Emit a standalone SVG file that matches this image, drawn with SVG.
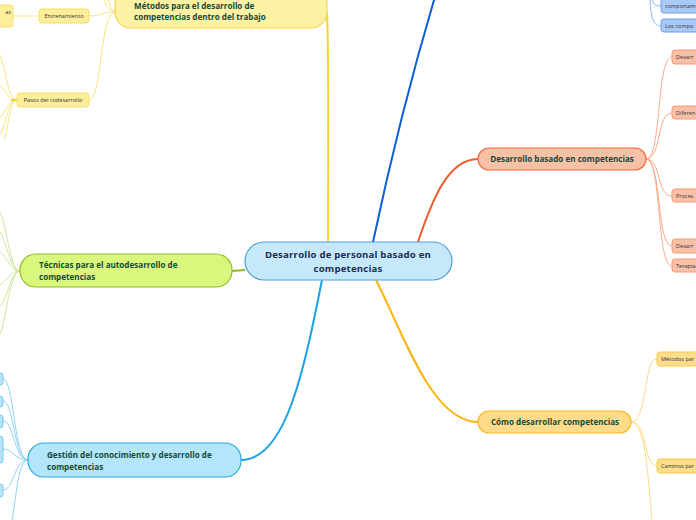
<svg xmlns="http://www.w3.org/2000/svg" width="696" height="520" viewBox="0 0 696 520">
<style>
text{font-family:"Open Sans","Noto Sans","Liberation Sans",sans-serif}
.main{font-size:8.1px;font-weight:bold;fill:#154b3a}
.ctr{font-size:9.6px;font-weight:bold;fill:#1b2b52;text-anchor:middle;letter-spacing:0.2px}
.sm{font-size:5.6px;fill:#333}
.yl{fill:none;stroke:#f7e483;stroke-width:1}
.gl{fill:none;stroke:#cfe69a;stroke-width:1}
.bl{fill:none;stroke:#91d3f4;stroke-width:1}
.dbl{fill:none;stroke:#8fb6ee;stroke-width:1}
.ol{fill:none;stroke:#f9ab8c;stroke-width:1}
.al{fill:none;stroke:#fdd985;stroke-width:1}
.ysub{fill:#fcee9a;stroke:#f6de62;stroke-width:1}
.bsub{fill:#b6e5fb;stroke:#75c8f0;stroke-width:1}
.dbsub{fill:#a9c9f7;stroke:#6d9eea;stroke-width:1}
.osub{fill:#f9c0a8;stroke:#f59a76;stroke-width:1}
.asub{fill:#fddd8c;stroke:#fbc84a;stroke-width:1}
</style>
<g id="connectors">
  <path d="M328 242 C328 160 329 60 327 12" fill="none" stroke="#f2d535" stroke-width="2"/>
  <path d="M373 242 C384 190 404 100 437 -10" fill="none" stroke="#0d5fd6" stroke-width="2"/>
  <path d="M418 242 C432 200 448 159 478 159" fill="none" stroke="#f15a2b" stroke-width="2"/>
  <path d="M245 270 L232 271" fill="none" stroke="#8cbc1f" stroke-width="2"/>
  <path d="M322 280 C304 370 286 460 241 460" fill="none" stroke="#1ba1e6" stroke-width="2"/>
  <path d="M376 280 C404 335 432 422 478 422" fill="none" stroke="#f9b610" stroke-width="2"/>
  <path class="yl" d="M115 12 C102 12 102 16 89 16"/>
  <path class="yl" d="M115 12 C100 12 102 100 89 100"/>
  <path class="yl" d="M115 12 C106 10 106 2 100 -6"/>
  <path class="yl" d="M115 12 C108 8 110 0 106 -8"/>
  <path class="yl" d="M39 16 L13 16"/>
  <path class="yl" d="M17 100 C8 100 6 70 0 55"/>
  <path class="yl" d="M17 100 C8 100 6 90 0 86"/>
  <path class="yl" d="M17 100 C8 100 6 112 0 118"/>
  <path class="yl" d="M17 100 C8 100 6 125 0 135"/>
  <path class="yl" d="M17 100 C10 100 8 130 4 140"/>
  <path d="M17 100 L11 100" fill="none" stroke="#f2d535" stroke-width="2"/>
  <path class="gl" d="M20 271 C10 271 8 230 0 212"/>
  <path class="gl" d="M20 271 C10 271 8 245 0 232"/>
  <path class="gl" d="M20 271 C10 271 8 258 0 252"/>
  <path class="gl" d="M20 271 C10 271 8 280 0 285"/>
  <path class="gl" d="M20 271 C10 271 8 300 0 306"/>
  <path class="gl" d="M20 271 C10 271 6 320 0 335"/>
  <path class="bl" d="M28 460 C14 460 14 379 3 379"/>
  <path class="bl" d="M28 460 C14 460 14 401 3 401"/>
  <path class="bl" d="M28 460 C14 460 14 421 3 421"/>
  <path class="bl" d="M28 460 C14 460 14 449 3 449"/>
  <path class="bl" d="M28 460 C14 460 14 490 3 490"/>
  <path class="bl" d="M28 460 C18 460 16 500 12 520"/>
  <path class="dbl" d="M652 -8 C652 4 654 6 661 6"/>
  <path class="dbl" d="M650 -8 C650 20 654 26 661 26"/>
  <path class="ol" d="M646 159 C662 159 656 57 672 57"/>
  <path class="ol" d="M646 159 C662 159 656 113 672 113"/>
  <path class="ol" d="M646 159 C662 159 656 196 672 196"/>
  <path class="ol" d="M646 159 C662 159 656 246 672 246"/>
  <path class="ol" d="M646 159 C662 159 656 266 672 266"/>
  <path class="al" d="M631 422 C648 422 643 359 657 359"/>
  <path class="al" d="M631 422 C648 422 643 466 657 466"/>
  <path class="al" d="M631 422 C646 422 648 480 652 520"/>
</g>
<g id="center">
  <rect x="245" y="242" width="207" height="38" rx="19" fill="#c5e9fb" stroke="#4d9fda" stroke-width="1.2"/>
  <text class="ctr" x="348" y="257.5">Desarrollo de personal basado en</text>
  <text class="ctr" x="348" y="272">competencias</text>
</g>
<g id="metodos-trabajo">
  <rect x="115" y="-12" width="212" height="40" rx="16" fill="#fdf2a4" stroke="#f4d84a" stroke-width="1.2"/>
  <text class="main" x="134" y="8.5">Métodos para el desarrollo de</text>
  <text class="main" x="134" y="19.5">competencias dentro del trabajo</text>
</g>
<g id="entrenamiento">
  <rect class="ysub" x="39" y="9" width="50" height="14" rx="3"/>
  <text class="sm" x="64" y="18" text-anchor="middle">Entrenamiento</text>
</g>
<g id="top-left-partial">
  <rect class="ysub" x="-20" y="5" width="33" height="22" rx="3"/>
  <text class="sm" x="11" y="13.5" text-anchor="end">as</text>
</g>
<g id="pasos">
  <rect class="ysub" x="17" y="93" width="72" height="14" rx="3"/>
  <text class="sm" x="53" y="102" text-anchor="middle">Pasos del codesarrollo</text>
</g>
<g id="tecnicas">
  <rect x="20" y="254" width="212" height="33" rx="16" fill="#d8f77c" stroke="#8dbf1c" stroke-width="1.2"/>
  <text class="main" x="39" y="268">Técnicas para el autodesarrollo de</text>
  <text class="main" x="39" y="279.5">competencias</text>
</g>
<g id="gestion">
  <rect x="28" y="443" width="213" height="34" rx="16" fill="#b3e5fb" stroke="#2ba8e8" stroke-width="1.2"/>
  <text class="main" x="47" y="458">Gestión del conocimiento y desarrollo de</text>
  <text class="main" x="47" y="469.5">competencias</text>
</g>
<g id="gestion-children">
  <rect class="bsub" x="-10" y="373" width="13" height="12" rx="3"/>
  <rect class="bsub" x="-10" y="396" width="13" height="11" rx="3"/>
  <rect class="bsub" x="-10" y="415" width="13" height="13" rx="3"/>
  <rect class="bsub" x="-10" y="436" width="13" height="27" rx="3"/>
  <rect class="bsub" x="-10" y="484" width="13" height="13" rx="3"/>
</g>
<g id="comportam">
  <rect class="dbsub" x="661" y="-10" width="60" height="23" rx="3"/>
  <text class="sm" x="665" y="8">comportam</text>
</g>
<g id="los-componentes">
  <rect class="dbsub" x="661" y="19" width="60" height="13" rx="3"/>
  <text class="sm" x="665" y="28">Los compo</text>
</g>
<g id="desarrollo-basado">
  <rect x="478" y="148" width="168" height="22" rx="11" fill="#f9c0a8" stroke="#f26a38" stroke-width="1.2"/>
  <text class="main" x="562" y="162" text-anchor="middle">Desarrollo basado en competencias</text>
</g>
<g id="orange-children">
  <rect class="osub" x="672" y="50" width="40" height="14" rx="3"/>
  <text class="sm" x="676" y="59">Desarr</text>
  <rect class="osub" x="672" y="106" width="40" height="13" rx="3"/>
  <text class="sm" x="676" y="115">Diferen</text>
  <rect class="osub" x="672" y="189" width="40" height="13" rx="3"/>
  <text class="sm" x="676" y="198">Proces</text>
  <rect class="osub" x="672" y="239" width="40" height="14" rx="3"/>
  <text class="sm" x="676" y="248">Desarr</text>
  <rect class="osub" x="672" y="259" width="40" height="13" rx="3"/>
  <text class="sm" x="676" y="268">Terapia</text>
</g>
<g id="como">
  <rect x="478" y="411" width="153" height="22" rx="11" fill="#fedb8a" stroke="#f9b921" stroke-width="1.2"/>
  <text class="main" x="555" y="425" text-anchor="middle">Cómo desarrollar competencias</text>
</g>
<g id="como-children">
  <rect class="asub" x="657" y="352" width="50" height="14" rx="3"/>
  <text class="sm" x="661" y="361">Métodos par</text>
  <rect class="asub" x="657" y="459" width="50" height="14" rx="3"/>
  <text class="sm" x="661" y="468">Caminos par</text>
</g>
</svg>
